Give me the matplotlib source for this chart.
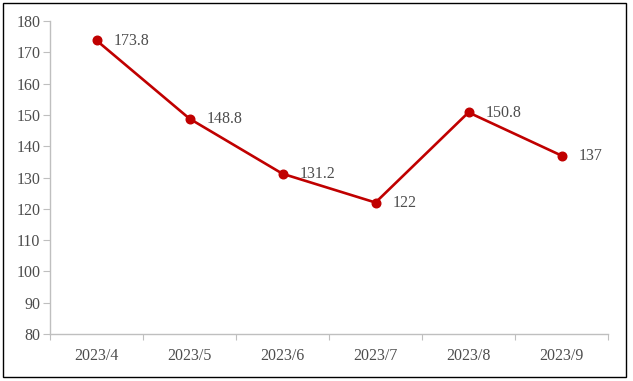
import matplotlib.pyplot as plt
from matplotlib.patches import Rectangle

months = ['2023/4', '2023/5', '2023/6', '2023/7', '2023/8', '2023/9']
values = [173.8, 148.8, 131.2, 122, 150.8, 137]
yticks = list(range(80, 181, 10))

plt.rcParams['font.family'] = ['Liberation Serif', 'DejaVu Serif']
txt_color = '#4d4d4d'
axis_color = '#BFBFBF'

W, H = 633, 381
fig = plt.figure(figsize=(W / 100, H / 100), dpi=100)
# axes box in pixels: left 50, right 608, top 21, bottom 334
ax = fig.add_axes([50 / W, 1 - 334 / H, (608 - 50) / W, (334 - 21) / H])

x = [i + 0.5 for i in range(len(months))]
ax.plot(x, values, color='#C00000', lw=1.9, marker='o', ms=6.2, zorder=3)

for xi, v in zip(x, values):
    lab = f'{v:g}'
    ax.annotate(lab, (xi, v), textcoords='offset points', xytext=(12, -0.5),
                ha='left', va='center', fontsize=11.5, color=txt_color)

ax.set_xlim(0, len(months))
ax.set_ylim(80, 180)
ax.set_yticks(yticks)
ax.set_xticks(range(len(months) + 1))
ax.set_xticklabels([])
ax.set_xticks(x, minor=True)
ax.set_xticklabels(months, minor=True)
ax.tick_params(axis='x', which='minor', length=0, pad=10, labelsize=11.5, labelcolor=txt_color)
ax.tick_params(axis='x', which='major', length=4, color=axis_color)
ax.tick_params(axis='y', length=5, color=axis_color, labelsize=11.5, labelcolor=txt_color, pad=2)

for s in ['top', 'right']:
    ax.spines[s].set_visible(False)
for s in ['left', 'bottom']:
    ax.spines[s].set_color(axis_color)
    ax.spines[s].set_linewidth(1)

# black outer frame
fig.patches.append(Rectangle((3 / W, 4 / H), 623 / W, 374 / H, transform=fig.transFigure,
                             fill=False, edgecolor='black', lw=1))

fig.savefig('out.png', dpi=100)
